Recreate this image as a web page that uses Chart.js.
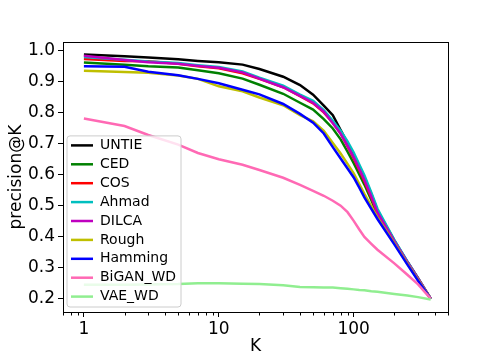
<!DOCTYPE html>
<html>
<head>
<meta charset="utf-8">
<script src="https://cdn.jsdelivr.net/npm/chart.js@4.4.1/dist/chart.umd.min.js"></script>
<style>
    html, body { margin: 0; padding: 0; background: #fff; }
</style>
</head>
<body>
<canvas id="precision-chart" width="498" height="356"></canvas>
<script>
const k_values = [1, 2, 3, 5, 7, 10, 15, 20, 30, 40, 50, 60, 70, 80, 90, 100, 110, 120, 135, 150, 200, 250, 300, 372];

const untie   = [0.988, 0.982, 0.978, 0.972, 0.967, 0.963, 0.955, 0.941, 0.916, 0.889, 0.858, 0.823, 0.792, 0.744, 0.702, 0.664, 0.626, 0.592, 0.538, 0.484, 0.388, 0.319, 0.266, 0.200];
const ced     = [0.962, 0.955, 0.950, 0.946, 0.937, 0.927, 0.910, 0.890, 0.861, 0.832, 0.810, 0.779, 0.749, 0.714, 0.674, 0.637, 0.601, 0.568, 0.518, 0.471, 0.382, 0.316, 0.263, 0.200];
const cos     = [0.973, 0.967, 0.966, 0.958, 0.950, 0.943, 0.927, 0.909, 0.882, 0.853, 0.830, 0.801, 0.768, 0.733, 0.691, 0.652, 0.614, 0.579, 0.526, 0.475, 0.384, 0.317, 0.264, 0.200];
const ahmad   = [0.980, 0.971, 0.965, 0.960, 0.953, 0.947, 0.933, 0.913, 0.887, 0.858, 0.838, 0.808, 0.774, 0.742, 0.707, 0.671, 0.633, 0.598, 0.543, 0.490, 0.390, 0.320, 0.265, 0.200];
const dilca   = [0.984, 0.970, 0.963, 0.958, 0.951, 0.945, 0.930, 0.910, 0.882, 0.854, 0.832, 0.803, 0.766, 0.732, 0.693, 0.656, 0.618, 0.583, 0.530, 0.478, 0.386, 0.318, 0.265, 0.200];
const rough   = [0.935, 0.931, 0.929, 0.920, 0.909, 0.885, 0.869, 0.849, 0.824, 0.792, 0.772, 0.741, 0.702, 0.668, 0.635, 0.604, 0.570, 0.538, 0.498, 0.462, 0.379, 0.313, 0.261, 0.200];
const hamming = [0.950, 0.948, 0.932, 0.921, 0.909, 0.895, 0.874, 0.859, 0.828, 0.796, 0.768, 0.733, 0.689, 0.652, 0.620, 0.591, 0.558, 0.527, 0.490, 0.457, 0.375, 0.310, 0.258, 0.200];
const bigan   = [0.781, 0.757, 0.728, 0.697, 0.670, 0.650, 0.632, 0.615, 0.590, 0.567, 0.548, 0.532, 0.516, 0.500, 0.479, 0.451, 0.423, 0.399, 0.377, 0.358, 0.314, 0.277, 0.246, 0.200];
const vae     = [0.245, 0.245, 0.246, 0.247, 0.250, 0.250, 0.248, 0.247, 0.243, 0.238, 0.237, 0.236, 0.236, 0.234, 0.232, 0.230, 0.228, 0.227, 0.224, 0.222, 0.215, 0.210, 0.205, 0.197];

const series_labels = ['UNTIE', 'CED', 'COS', 'Ahmad', 'DILCA', 'Rough', 'Hamming', 'BiGAN_WD', 'VAE_WD'];
const series_values = [untie, ced, cos, ahmad, dilca, rough, hamming, bigan, vae];
const series_colors = ['#000000', '#008000', '#ff0000', '#00bfbf', '#bf00bf', '#bfbf00', '#0000ff', '#ff69b4', '#90ee90'];

const x_major_ticks = [1, 10, 100];
const y_ticks = [0.2, 0.3, 0.4, 0.5, 0.6, 0.7, 0.8, 0.9, 1.0];

const FONT = 'DejaVu Sans';
const canvas = document.getElementById('precision-chart');

var chart_datasets = series_labels.map((label, i) => {
    return {
        label: label,
        data: k_values.map((k, j) => ({ x: k, y: series_values[i][j] })),
        borderColor: series_colors[i],
        backgroundColor: series_colors[i],
        borderWidth: 2.5,
        pointRadius: 0,
        tension: 0,
        fill: false,
        // later series drawn on top, like matplotlib
        order: series_labels.length - i
    };
});

// box round plot area, minor log ticks, legend in the lower left
const frame_plugin = {
    id: 'frame',
    afterDatasetsDraw(chart) {
        const ctx = chart.ctx;
        const area = chart.chartArea;
        const xs = chart.scales.x;

        ctx.save();
        ctx.strokeStyle = '#000';
        ctx.lineWidth = 1;
        ctx.strokeRect(Math.round(area.left) + 0.5, Math.round(area.top) + 0.5,
            Math.round(area.right - area.left), Math.round(area.bottom - area.top));

        // minor ticks
        ctx.beginPath();
        for (let dec = 0.1; dec <= 100; dec *= 10) {
            for (let m = 2; m <= 9; m++) {
                const v = dec * m;
                if (v < xs.min || v > xs.max) continue;
                const px = Math.round(xs.getPixelForValue(v)) + 0.5;
                ctx.moveTo(px, Math.round(area.bottom) + 0.5);
                ctx.lineTo(px, Math.round(area.bottom) + 3.5);
            }
        }
        ctx.stroke();

        // legend
        const lx = area.left + 4;
        const lw = 114;
        const row = 18.9;
        const lh = row * series_labels.length + 1;
        const ly = area.bottom - 5 - lh;
        ctx.beginPath();
        ctx.roundRect(lx, ly, lw, lh, 3);
        ctx.fillStyle = 'rgba(255,255,255,0.8)';
        ctx.fill();
        ctx.strokeStyle = '#cccccc';
        ctx.lineWidth = 1;
        ctx.stroke();

        ctx.font = '14px "' + FONT + '"';
        ctx.textBaseline = 'middle';
        ctx.textAlign = 'left';
        series_labels.forEach((label, i) => {
            const y = ly + 9.5 + i * row;
            ctx.beginPath();
            ctx.strokeStyle = series_colors[i];
            ctx.lineWidth = 2.5;
            ctx.moveTo(lx + 4, y);
            ctx.lineTo(lx + 26, y);
            ctx.stroke();
            ctx.fillStyle = '#000';
            ctx.fillText(label, lx + 33, y);
        });
        ctx.restore();
    }
};

var chart = new Chart(canvas, {
    type: 'line',
    data: {
        datasets: chart_datasets
    },
    options: {
        responsive: false,
        animation: false,
        devicePixelRatio: 1,
        layout: {
            padding: { top: 42, right: 50, left: 0, bottom: 0 }
        },
        plugins: {
            legend: { display: false },
            tooltip: { enabled: false }
        },
        scales: {
            x: {
                type: 'logarithmic',
                min: 0.744,
                max: 500,
                afterBuildTicks: (scale) => {
                    scale.ticks = x_major_ticks.map(v => ({ value: v }));
                },
                afterFit: (scale) => { scale.height = 44; },
                ticks: {
                    autoSkip: false,
                    maxRotation: 0,
                    padding: 2,
                    color: '#000',
                    font: { family: FONT, size: 17 },
                    callback: (value) => String(value)
                },
                grid: {
                    drawOnChartArea: false,
                    drawTicks: true,
                    tickLength: 5,
                    tickColor: '#000'
                },
                border: { display: false },
                title: {
                    display: true,
                    text: 'K',
                    color: '#000',
                    font: { family: FONT, size: 17, lineHeight: 1 },
                    padding: { top: 0, bottom: 1 }
                }
            },
            y: {
                type: 'linear',
                min: 0.157,
                max: 1.028,
                afterBuildTicks: (scale) => {
                    scale.ticks = y_ticks.map(v => ({ value: v }));
                },
                afterFit: (scale) => { scale.width = 63; },
                ticks: {
                    padding: 3,
                    color: '#000',
                    font: { family: FONT, size: 17 },
                    callback: (value) => value.toFixed(1)
                },
                grid: {
                    drawOnChartArea: false,
                    drawTicks: true,
                    tickLength: 5,
                    tickColor: '#000'
                },
                border: { display: false },
                title: {
                    display: true,
                    text: 'precision@K',
                    color: '#000',
                    font: { family: FONT, size: 17, lineHeight: 1 },
                    padding: { top: 8, bottom: 0 }
                }
            }
        }
    },
    plugins: [frame_plugin]
});
</script>
</body>
</html>
